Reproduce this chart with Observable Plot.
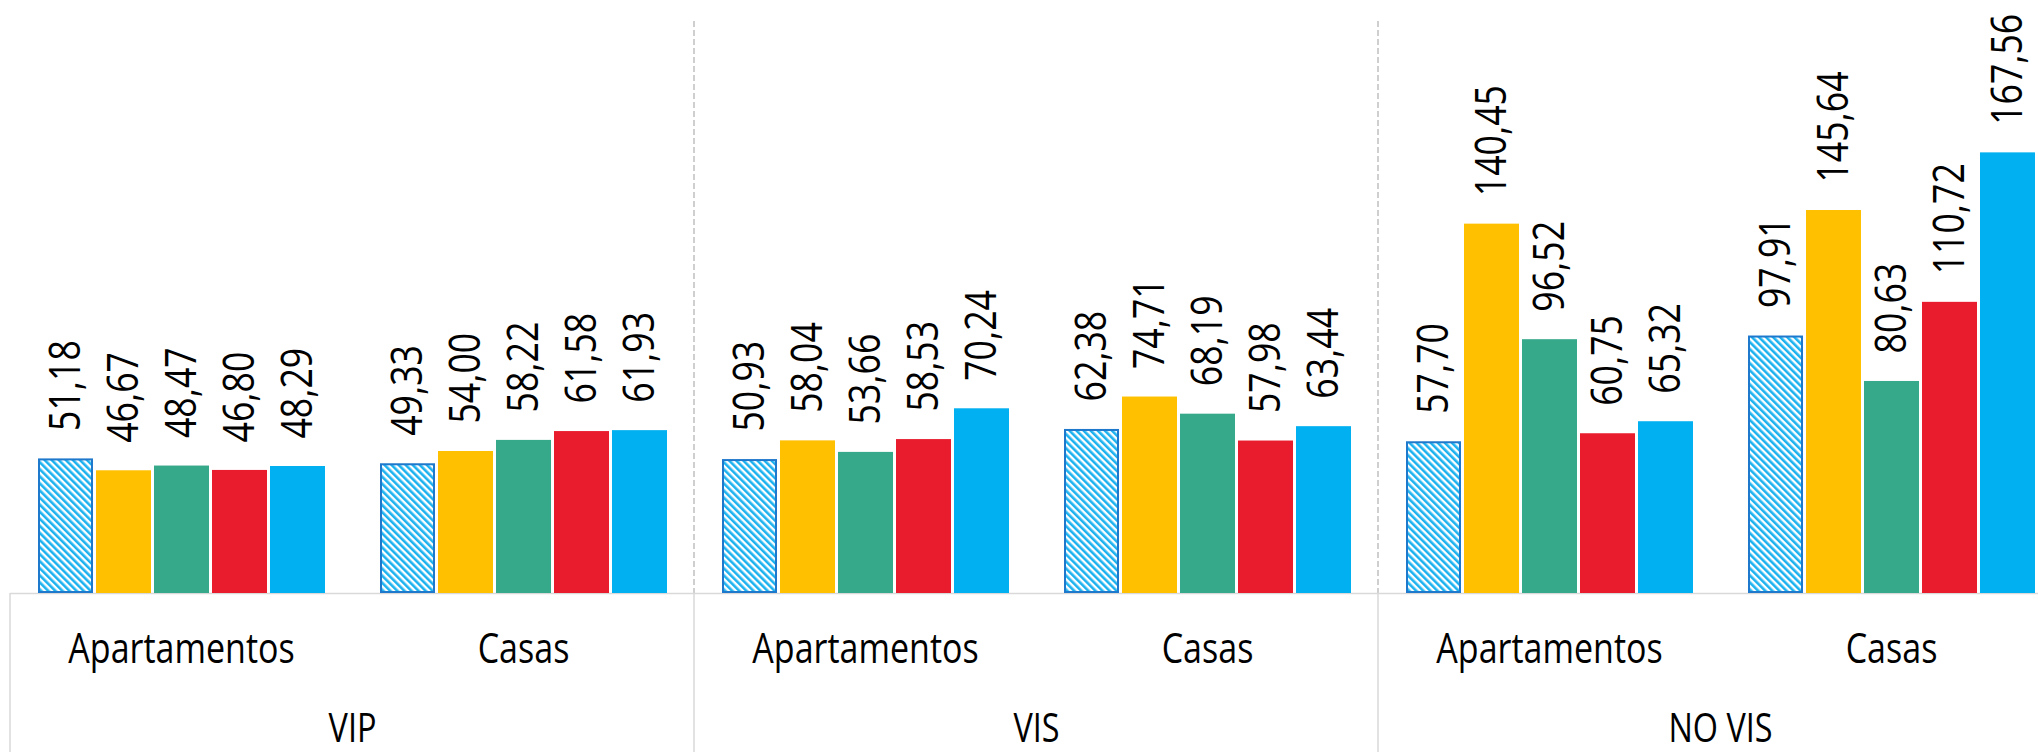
<!DOCTYPE html>
<html>
<head>
<meta charset="utf-8">
<script src="https://cdn.jsdelivr.net/npm/d3@7"></script>
<script src="https://cdn.jsdelivr.net/npm/@observablehq/plot@0.6"></script>
<style>
  html, body { margin: 0; padding: 0; background: #ffffff; }
  #chart svg { display: block; }
</style>
</head>
<body>
<div id="chart"></div>
<script>
// ---- Data ----
const groups = ["VIP", "VIS", "NO VIS"];
const types = ["Apartamentos", "Casas"];
const series = ["Serie 1", "Serie 2", "Serie 3", "Serie 4", "Serie 5"];
// values per subgroup, order: VIP-Apto, VIP-Casas, VIS-Apto, VIS-Casas, NO VIS-Apto, NO VIS-Casas
const serie1 = [51.18, 49.33, 50.93, 62.38, 57.70, 97.91];
const serie2 = [46.67, 54.00, 58.04, 74.71, 140.45, 145.64];
const serie3 = [48.47, 58.22, 53.66, 68.19, 96.52, 80.63];
const serie4 = [46.80, 61.58, 58.53, 57.98, 60.75, 110.72];
const serie5 = [48.29, 61.93, 70.24, 63.44, 65.32, 167.56];
const seriesValues = [serie1, serie2, serie3, serie4, serie5];
const seriesColors = ["url(#hatch)", "#FFC000", "#36A98B", "#E91C2E", "#00B0F0"];

// ---- Tables built from the arrays ----
const keys = [];
const subgroupRows = [];
groups.forEach(g => types.forEach(t => {
  const key = g + "|" + t;
  keys.push(key);
  subgroupRows.push({key, group: g, type: t});
}));
const groupRows = groups.map(g => ({key: g + "|" + types[0], group: g}));
const rows = [];
keys.forEach((key, k) => series.forEach((s, j) => {
  rows.push({key, series: s, value: seriesValues[j][k]});
}));

const fmt = d3.formatLocale({decimal: ",", thousands: ".", grouping: [3], currency: ["", ""]}).format(".2f");
const FONT = "'Open Sans', 'Noto Sans', sans-serif";

const chart = Plot.plot({
  width: 2038,
  height: 752,
  marginTop: 0,
  marginBottom: 159,
  marginLeft: 10,
  marginRight: 0,
  style: {fontFamily: FONT, background: "#ffffff", color: "#000000"},
  fx: {domain: keys, range: [10, 2062], padding: 0, axis: null, label: null},
  x: {domain: series, paddingInner: 0.053, paddingOuter: 0.47, axis: null, label: null},
  y: {domain: [0, 225.5], axis: null, label: null},
  color: {domain: series.slice(1), range: seriesColors.slice(1)},
  marks: [
    Plot.ruleY([0], {stroke: "#d9d9d9", strokeWidth: 1.5}),
    Plot.barY(rows.filter(d => d.series !== series[0]), {
      fx: "key", x: "series", y: "value", fill: "series", inset: 0
    }),
    Plot.barY(rows.filter(d => d.series === series[0]), {
      fx: "key", x: "series", y: "value", fill: seriesColors[0],
      stroke: "#1E78CC", strokeWidth: 2, inset: 1
    }),
    Plot.text(rows, {
      fx: "key", x: "series", y: "value", text: d => fmt(d.value),
      rotate: -90, textAnchor: "start", lineAnchor: "middle", dy: -28,
      fontSize: 44, fill: "#000000"
    }),
    Plot.text(subgroupRows, {
      fx: "key", text: "type", frameAnchor: "bottom", textAnchor: "middle",
      lineAnchor: "middle", dy: 56, fontSize: 42, fill: "#000000"
    }),
    Plot.text(groupRows, {
      fx: "key", text: "group", frameAnchor: "bottom-right", textAnchor: "middle",
      lineAnchor: "middle", dy: 136, fontSize: 40, fill: "#000000"
    })
  ]
});

// hatch pattern for the first series
const svg = d3.select(chart);
const defs = svg.insert("defs", ":first-child");
const pat = defs.append("pattern")
  .attr("id", "hatch")
  .attr("patternUnits", "userSpaceOnUse")
  .attr("width", 5).attr("height", 5)
  .attr("patternTransform", "rotate(-45)");
pat.append("rect").attr("width", 5).attr("height", 5).attr("fill", "#ffffff");
pat.append("rect").attr("width", 2.6).attr("height", 5).attr("fill", "#1CB2EF");

// group separators, positioned through Plot's own scales
const fxScale = chart.scale("fx");
const yScale = chart.scale("y");
const y0 = yScale.apply(0);
const sepG = svg.insert("g", "defs + *");
groups.forEach((g, i) => {
  const xPos = fxScale.apply(g + "|" + types[0]);
  sepG.append("line")
    .attr("x1", xPos).attr("x2", xPos)
    .attr("y1", y0).attr("y2", 752)
    .attr("stroke", "#d9d9d9").attr("stroke-width", 1.5);
  if (i > 0) {
    sepG.append("line")
      .attr("x1", xPos).attr("x2", xPos)
      .attr("y1", 21).attr("y2", y0)
      .attr("stroke", "#c4c4c4").attr("stroke-width", 1.6)
      .attr("stroke-dasharray", "6,3");
  }
});

document.getElementById("chart").appendChild(chart);

// condense the glyphs to mimic the narrow typeface of the original
svg.selectAll("text").each(function () {
  const L = this.getComputedTextLength();
  if (L > 0) {
    this.setAttribute("textLength", (L * 0.81).toFixed(1));
    this.setAttribute("lengthAdjust", "spacingAndGlyphs");
  }
});
</script>
</body>
</html>
